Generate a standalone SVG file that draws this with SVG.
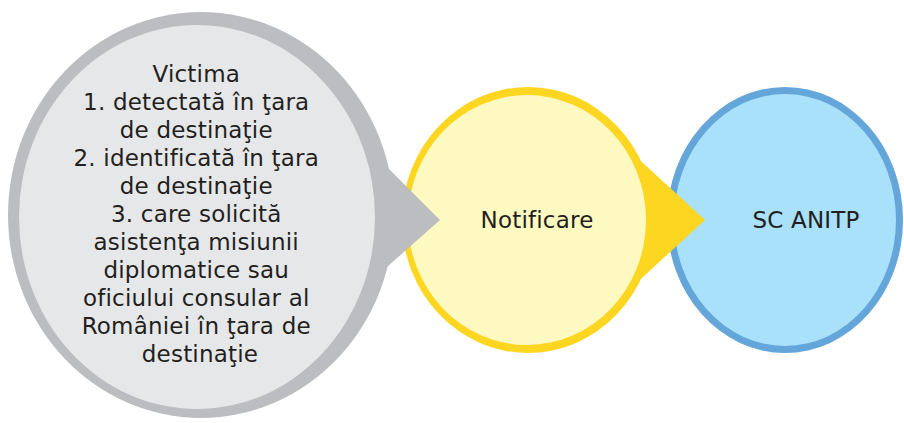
<svg xmlns="http://www.w3.org/2000/svg" width="904" height="423" viewBox="0 0 904 423">
<style>
.t{font-family:"DejaVu Sans","Verdana",sans-serif;font-size:23px;letter-spacing:0.2px;fill:#231f20;text-anchor:middle}
.gs{fill:#bbbdc0}.gf{fill:#e6e7e8}
.ys{fill:#fdd622}.yf{fill:#fef9c1}
.bs{fill:#64a6da}.bf{fill:#a9e0fa}
</style>
<rect width="904" height="423" fill="#ffffff"/>
<g id="node-sc-anitp">
<ellipse class="bs" cx="785" cy="220" rx="118" ry="133"/>
<ellipse class="bf" cx="785" cy="220" rx="111" ry="126"/>
<text class="t" x="806" y="228">SC ANITP</text>
</g>
<g id="node-notificare">
<ellipse class="ys" cx="528" cy="220" rx="126" ry="133"/>
<path class="ys" d="M620,142 L705,220 L620,298 Z"/>
<ellipse class="yf" cx="527" cy="220" rx="119" ry="125"/>
<text class="t" x="537" y="228">Notificare</text>
</g>
<g id="node-victima">
<ellipse class="gs" cx="201" cy="215" rx="193" ry="203"/>
<path class="gs" d="M370,150 L440,220 L370,282 Z"/>
<ellipse class="gf" cx="197" cy="217" rx="178" ry="192"/>
<text class="t">
<tspan x="200" y="82">Victima</tspan>
<tspan x="200" y="110">1. detectată în ţara</tspan>
<tspan x="200" y="138">de destinaţie</tspan>
<tspan x="200" y="166">2. identificată în ţara</tspan>
<tspan x="200" y="194">de destinaţie</tspan>
<tspan x="200" y="222">3. care solicită</tspan>
<tspan x="200" y="250">asistenţa misiunii</tspan>
<tspan x="200" y="278">diplomatice sau</tspan>
<tspan x="200" y="306">oficiului consular al</tspan>
<tspan x="200" y="334">României în ţara de</tspan>
<tspan x="200" y="362">destinaţie</tspan>
</text>
</g>
</svg>
